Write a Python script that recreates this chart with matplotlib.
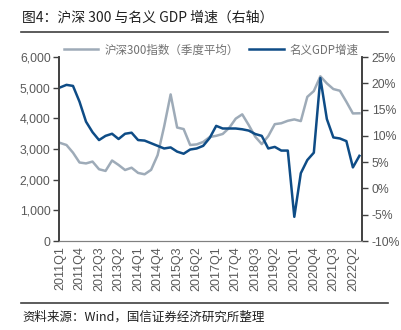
import matplotlib
matplotlib.use("Agg")
import matplotlib.pyplot as plt
import numpy as np

plt.rcParams['font.family'] = ['Liberation Sans', 'Noto Sans CJK SC', 'DejaVu Sans']

quarters = [f"{y}Q{q}" for y in range(2011, 2023) for q in range(1, 5)][:47]

csi300 = [3200, 3130, 2880, 2560, 2530, 2590, 2340, 2285, 2625, 2480, 2315, 2390,
          2220, 2175, 2320, 2800, 3730, 4780, 3700, 3650, 3130, 3150, 3230, 3390,
          3430, 3490, 3690, 3990, 4130, 3780, 3400, 3160, 3420, 3810, 3840, 3920,
          3965, 3910, 4700, 4890, 5370, 5140, 4955, 4900, 4540, 4160, 4165]

gdp = [19.2, 19.7, 19.5, 16.5, 12.7, 10.7, 9.2, 10.0, 10.4, 9.4, 10.4, 10.6,
       9.2, 9.1, 8.6, 8.1, 7.6, 7.8, 7.0, 6.6, 7.4, 7.6, 8.1, 9.6,
       11.9, 11.4, 11.4, 11.4, 11.25, 11.0, 10.35, 10.0, 7.6, 7.9, 7.2, 7.2,
       -5.4, 2.9, 5.4, 6.8, 21.0, 13.2, 9.7, 9.5, 9.0, 4.0, 6.2]

left_ticks = [0, 1000, 2000, 3000, 4000, 5000, 6000]
right_ticks = [-10, -5, 0, 5, 10, 15, 20, 25]

gray_c = '#9EABB8'
blue_c = '#0E4C86'
axis_c = '#404040'
text_c = '#595959'

fig = plt.figure(figsize=(4.02, 3.30), dpi=100)
ax = fig.add_axes([59/402, 1-241/330, (362-59)/402, (241-57)/330])
ax2 = ax.twinx()

x = np.arange(len(quarters))
l1, = ax.plot(x, csi300, color=gray_c, lw=1.8, label='沪深300指数（季度平均）')
l2, = ax2.plot(x, gdp, color=blue_c, lw=1.8, label='名义GDP增速')

ax.set_ylim(0, 6000)
ax.set_yticks(left_ticks)
ax.set_yticklabels([f"{v:,}" for v in left_ticks], fontsize=8.8, color=text_c)
ax2.set_ylim(-10, 25)
ax2.set_yticks(right_ticks)
ax2.set_yticklabels([f"{v}%" for v in right_ticks], fontsize=8.8, color=text_c)

ax.set_xlim(-0.15, 46.4)
ax.set_xticks(x[::3])
ax.set_xticklabels(quarters[::3], rotation=90, fontsize=9, color=text_c)
ax.tick_params(axis='x', length=0, pad=4)
ax.tick_params(axis='y', length=4, width=1, color=axis_c, pad=2)
ax2.tick_params(axis='y', length=4, width=1, color=axis_c, pad=3)

for a in (ax, ax2):
    a.spines['top'].set_visible(False)
    a.spines['left'].set_color(axis_c)
    a.spines['right'].set_color(axis_c)
    a.spines['bottom'].set_color('#808080')
    a.spines['left'].set_linewidth(1.2)
    a.spines['right'].set_linewidth(1.2)
    a.spines['bottom'].set_linewidth(0.8)

leg = fig.legend(handles=[l1, l2], loc='center', bbox_to_anchor=(0.525, 1-50/330),
                 ncol=2, frameon=False, handlelength=3.0,
                 columnspacing=0.9, handletextpad=0.5,
                 prop={'family': ['Noto Sans CJK SC'], 'size': 8.3})
for t in leg.get_texts():
    t.set_color('#707070')

fig.text(22/402, 1-18/330, '图4：沪深 300 与名义 GDP 增速（右轴）', fontsize=10,
         family=['Noto Sans CJK SC'], va='center', ha='left', color='#202020')
fig.add_artist(plt.Line2D([21/402, 388/402], [1-32/330, 1-32/330], color='#404040', lw=1.2))
fig.add_artist(plt.Line2D([21/402, 388/402], [1-303/330, 1-303/330], color='#404040', lw=1.2))
fig.text(22/402, 1-317/330, '资料来源：Wind，国信证券经济研究所整理', fontsize=9,
         family=['Noto Sans CJK SC'], va='center', ha='left', color='#202020')

fig.savefig('out.png', dpi=100)
